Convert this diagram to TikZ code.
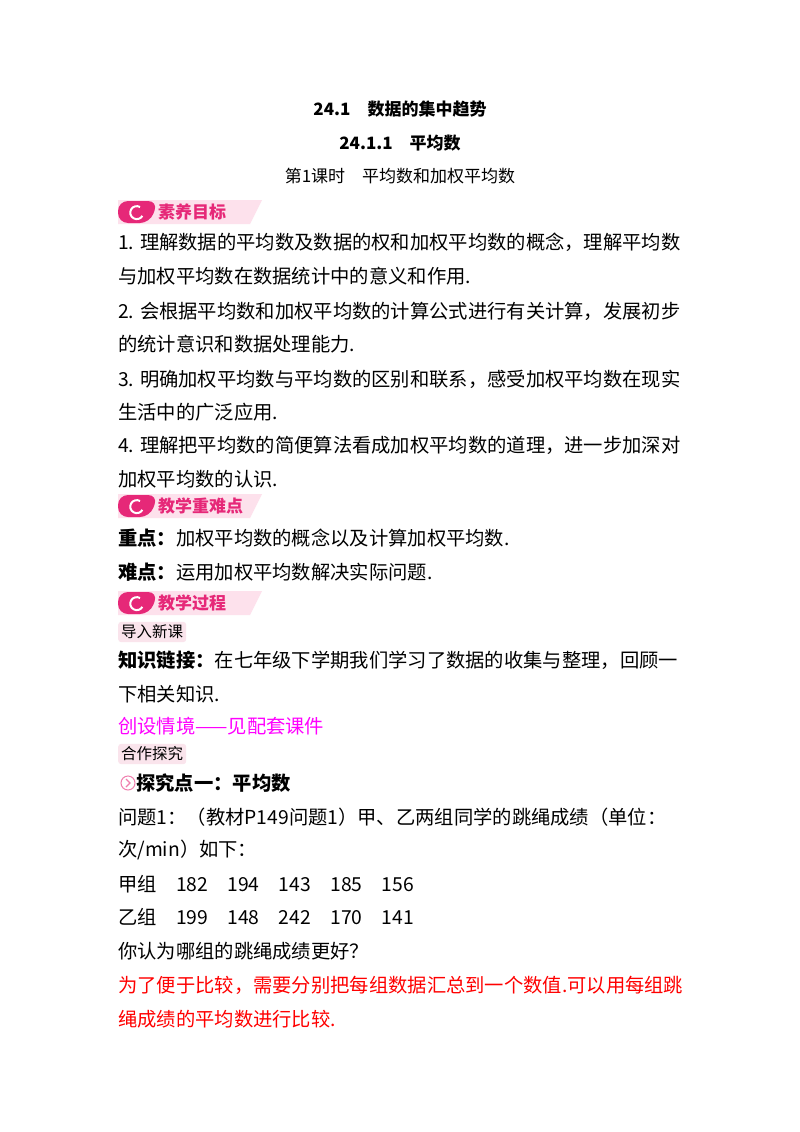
\documentclass[tikz,border=0pt]{standalone}
\usepackage{fontspec}
\setmainfont{Noto Sans CJK SC}
\usetikzlibrary{positioning}
\definecolor{badgered}{RGB}{230,40,120}
\definecolor{badgepink}{RGB}{253,225,236}
\definecolor{tagpink}{RGB}{250,228,236}
\definecolor{linkpink}{RGB}{255,0,255}
\tikzset{
  line/.style={anchor=west, inner sep=0pt, font=\fontsize{19.3}{22}\selectfont},
  head/.style={anchor=center, inner sep=0pt, font=\fontsize{17}{20}\selectfont\bfseries},
  tag/.style={anchor=west, fill=tagpink, rounded corners=3pt, inner sep=3pt, font=\fontsize{15.5}{17}\selectfont},
  badgetext/.style={anchor=west, inner sep=0pt, text=badgered, font=\fontsize{17}{19}\selectfont\bfseries},
}
\newcommand{\badge}[3]{%
  \fill[badgepink] (118,-#1+12) -- (262,-#1+12) -- (250,-#1-12) -- (118,-#1-12) -- cycle;
  \fill[badgered, rounded corners=10pt] (118,-#1+11) -- (158,-#1+11) -- (150,-#1-11) -- (118,-#1-11) -- cycle;
  \draw[white, line width=2pt] (140,-#1+5) arc (60:330:6.5);
  \node[badgetext] (#2) at (158,-#1) {#3};}
\begin{document}
\begin{tikzpicture}[x=1pt,y=1pt]
\useasboundingbox (0,0) rectangle (800,-1132);
\fill[white] (0,0) rectangle (800,-1132);
% titles
\node[head] (t1) at (400,-109) {24.1\quad 数据的集中趋势};
\node[head] (t2) at (400,-143) {24.1.1\quad 平均数};
\node[anchor=center, inner sep=0pt, font=\fontsize{17}{20}\selectfont] (t3) at (400,-176) {第1课时\quad 平均数和加权平均数};
% goals
\badge{212}{b1}{素养目标}
\node[line] (l1) at (118,-242) {1. 理解数据的平均数及数据的权和加权平均数的概念，理解平均数};
\node[line] (l2) at (118,-276) {与加权平均数在数据统计中的意义和作用.};
\node[line] (l3) at (118,-311) {2. 会根据平均数和加权平均数的计算公式进行有关计算，发展初步};
\node[line] (l4) at (118,-344) {的统计意识和数据处理能力.};
\node[line] (l5) at (118,-379) {3. 明确加权平均数与平均数的区别和联系，感受加权平均数在现实};
\node[line] (l6) at (118,-412) {生活中的广泛应用.};
\node[line] (l7) at (118,-445) {4. 理解把平均数的简便算法看成加权平均数的道理，进一步加深对};
\node[line] (l8) at (118,-479) {加权平均数的认识.};
% key points
\badge{506}{b2}{教学重难点}
\node[line] (k1) at (118,-538) {\textbf{重点：}加权平均数的概念以及计算加权平均数.};
\node[line] (k2) at (118,-572) {\textbf{难点：}运用加权平均数解决实际问题.};
% process
\badge{603}{b3}{教学过程}
\node[tag] (g1) at (118,-632) {导入新课};
\node[line] (p1) at (118,-660) {\textbf{知识链接：}在七年级下学期我们学习了数据的收集与整理，回顾一};
\node[line] (p2) at (118,-694) {下相关知识.};
\node[line, text=linkpink] (p3) at (118,-726) {创设情境——见配套课件};
\node[tag] (g2) at (118,-754) {合作探究};
\draw[badgered!60, line width=1pt] (128,-783) circle (7);
\draw[badgered!60, line width=1.2pt] (126,-779) -- (130,-783) -- (126,-787);
\node[line] (p4) at (136,-783) {\textbf{探究点一：平均数}};
\node[line] (p5) at (118,-817) {问题1：（教材P149问题1）甲、乙两组同学的跳绳成绩（单位：};
\node[line] (p6) at (118,-850) {次/min）如下：};
\node[line] (p7) at (118,-884) {甲组\quad 182\quad 194\quad 143\quad 185\quad 156};
\node[line] (p8) at (118,-917) {乙组\quad 199\quad 148\quad 242\quad 170\quad 141};
\node[line] (p9) at (118,-951) {你认为哪组的跳绳成绩更好？};
\node[line, text=red] (p10) at (118,-985) {为了便于比较，需要分别把每组数据汇总到一个数值.可以用每组跳};
\node[line, text=red] (p11) at (118,-1019) {绳成绩的平均数进行比较.};
\end{tikzpicture}
\end{document}
